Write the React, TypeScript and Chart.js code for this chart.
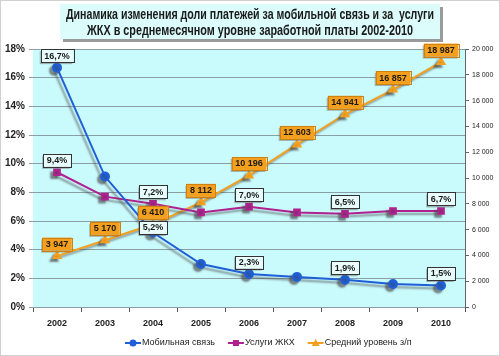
import React, { useEffect, useRef } from "react";
import { Chart, registerables } from "chart.js";
Chart.register(...registerables);

const titleLines = [
  "Динамика изменения доли платежей за мобильной связь и за  услуги",
  "ЖКХ в среднемесячном уровне заработной платы 2002-2010",
];
const years = ["2002", "2003", "2004", "2005", "2006", "2007", "2008", "2009", "2010"];
const mobileName = "Мобильная связь";
const housingName = "Услуги ЖКХ";
const salaryName = "Средний уровень з/п";
const mobile = [16.7, 9.1, 5.2, 3.0, 2.3, 2.1, 1.9, 1.6, 1.5];
const housing = [9.4, 7.7, 7.2, 6.6, 7.0, 6.6, 6.5, 6.7, 6.7];
const salary = [3947, 5170, 6410, 8112, 10196, 12603, 14941, 16857, 18987];
const mobileLabelIdx = [0, 2, 4, 6, 8];
const housingLabelIdx = [0, 2, 4, 6, 8];
const salaryLabelIdx = [0, 1, 2, 3, 4, 5, 6, 7, 8];

const BLUE = "#1f5fd8";
const PURPLE = "#b0208e";
const ORANGE = "#f4a01e";
const FONT = "'Liberation Sans Narrow', 'Liberation Sans', 'DejaVu Sans', sans-serif";

const fmtPct = (v: number) => v.toFixed(1).replace(".", ",") + "%";
const fmtNum = (v: number) => String(v).replace(/\B(?=(\d{3})+(?!\d))/g, " ");

const decorPlugin = {
  id: "decor",
  beforeDraw(chart: any) {
    const { ctx, chartArea: a, width, height } = chart;
    ctx.save();
    ctx.fillStyle = "#ffffff";
    ctx.fillRect(0, 0, width, height);
    ctx.strokeStyle = "#d0d0d0";
    ctx.lineWidth = 1;
    ctx.strokeRect(0.5, 0.5, width - 1, height - 1);
    ctx.fillStyle = "#c9fafc";
    ctx.fillRect(a.left, a.top, a.right - a.left, a.bottom - a.top);
    // title box
    ctx.fillStyle = "#9a9a9a";
    ctx.fillRect(63, 7, 380, 35);
    ctx.fillStyle = "#dcfbfb";
    ctx.fillRect(60, 4, 380, 35);
    ctx.fillStyle = "#1a1a1a";
    ctx.textAlign = "center";
    ctx.textBaseline = "middle";
    ctx.font = `bold 14px ${FONT}`;
    ctx.fillText(titleLines[0], 250, 15, 368);
    ctx.fillText(titleLines[1], 250, 31, 326);
    ctx.restore();
  },
  beforeDatasetsDraw(chart: any) {
    const ctx = chart.ctx;
    ctx.save();
    ctx.shadowColor = "rgba(70,70,70,0.55)";
    ctx.shadowOffsetX = -3;
    ctx.shadowOffsetY = 3;
    ctx.shadowBlur = 2;
  },
  afterDatasetsDraw(chart: any) {
    const ctx = chart.ctx;
    ctx.restore();
    const drawLabel = (x: number, y: number, text: string, orange: boolean) => {
      ctx.save();
      ctx.font = `bold 9px ${FONT}`;
      const w = ctx.measureText(text).width + 7;
      const h = 13;
      ctx.fillStyle = "rgba(90,90,90,0.45)";
      ctx.fillRect(x - w / 2 - 1, y - h / 2 + 2, w, h);
      ctx.fillStyle = orange ? ORANGE : "#e8fcfc";
      ctx.fillRect(x - w / 2, y - h / 2, w, h);
      ctx.strokeStyle = orange ? "#d08010" : "#333333";
      ctx.lineWidth = 1;
      ctx.strokeRect(Math.round(x - w / 2) + 0.5, Math.round(y - h / 2) + 0.5, Math.round(w), h);
      ctx.fillStyle = "#1a1a1a";
      ctx.textAlign = "center";
      ctx.textBaseline = "middle";
      ctx.fillText(text, x, y + 0.5);
      ctx.restore();
    };
    const sets: [number, number[], (v: number) => string, boolean][] = [
      [0, mobileLabelIdx, fmtPct, false],
      [1, housingLabelIdx, fmtPct, false],
      [2, salaryLabelIdx, fmtNum, true],
    ];
    sets.forEach(([di, idxs, fmt, orange]) => {
      const meta = chart.getDatasetMeta(di);
      const data = chart.data.datasets[di].data;
      idxs.forEach((i) => {
        const p = meta.data[i];
        let off = 12;
        if (di === 0 && i === 2) off = 5;
        drawLabel(p.x, p.y - off, fmt(data[i]), orange);
      });
    });
    // legend
    ctx.save();
    ctx.font = `9px ${FONT}`;
    ctx.textBaseline = "middle";
    ctx.textAlign = "left";
    const items: [string, string, string][] = [
      [mobileName, BLUE, "circle"],
      [housingName, PURPLE, "rect"],
      [salaryName, ORANGE, "triangle"],
    ];
    let x = 125;
    const y = 343;
    items.forEach(([name, color, shape]) => {
      ctx.strokeStyle = color;
      ctx.fillStyle = color;
      ctx.lineWidth = 2;
      ctx.beginPath();
      ctx.moveTo(x, y);
      ctx.lineTo(x + 16, y);
      ctx.stroke();
      const cx = x + 8;
      ctx.beginPath();
      if (shape === "circle") ctx.arc(cx, y, 3.5, 0, Math.PI * 2);
      else if (shape === "rect") ctx.rect(cx - 3, y - 3, 6, 6);
      else {
        ctx.moveTo(cx, y - 4);
        ctx.lineTo(cx + 4, y + 3);
        ctx.lineTo(cx - 4, y + 3);
        ctx.closePath();
      }
      ctx.fill();
      ctx.fillStyle = "#222222";
      ctx.fillText(name, x + 17, y);
      x += 17 + ctx.measureText(name).width + 13;
    });
    ctx.restore();
  },
};

export default function App() {
  const ref = useRef<HTMLCanvasElement | null>(null);
  useEffect(() => {
    document.body.style.margin = "0";
    const chart = new Chart(ref.current as HTMLCanvasElement, {
      type: "line",
      data: {
        labels: years,
        datasets: [
          {
            label: mobileName,
            data: mobile,
            borderColor: BLUE,
            backgroundColor: BLUE,
            borderWidth: 2,
            pointStyle: "circle",
            pointRadius: 4,
            yAxisID: "y",
          },
          {
            label: housingName,
            data: housing,
            borderColor: PURPLE,
            backgroundColor: PURPLE,
            borderWidth: 2,
            pointStyle: "rect",
            pointRadius: 4,
            yAxisID: "y",
          },
          {
            label: salaryName,
            data: salary,
            borderColor: ORANGE,
            backgroundColor: ORANGE,
            borderWidth: 2,
            pointStyle: "triangle",
            pointRadius: 4,
            yAxisID: "y1",
          },
        ],
      },
      options: {
        animation: false,
        responsive: false,
        layout: { padding: { top: 49, left: 0, right: 0, bottom: 0 } },
        plugins: { legend: { display: false }, title: { display: false }, tooltip: { enabled: false } },
        scales: {
          x: {
            offset: true,
            grid: { display: true, offset: true, drawOnChartArea: false, drawTicks: true, tickLength: 5, color: "#555" },
            border: { display: true, color: "#8a9ea4" },
            ticks: { font: { family: FONT, size: 9, weight: "bold" }, color: "#222", padding: 6 },
            afterFit: (s: any) => { s.height = 49; },
          },
          y: {
            position: "left",
            min: 0,
            max: 18,
            ticks: { stepSize: 2, callback: (v: any) => v + "%", font: { family: FONT, size: 10, weight: "bold" }, color: "#222", padding: 4 },
            grid: { color: "#8a9ea4", lineWidth: 1, tickLength: 4 },
            border: { display: false },
            afterFit: (s: any) => { s.width = 33; },
          },
          y1: {
            position: "right",
            min: 0,
            max: 20000,
            ticks: { stepSize: 2000, callback: (v: any) => fmtNum(Number(v)), font: { family: FONT, size: 7 }, color: "#222", padding: 3 },
            grid: { drawOnChartArea: false, tickLength: 4, color: "#666" },
            border: { display: true, color: "#666" },
            afterFit: (s: any) => { s.width = 35; },
          },
        },
      } as any,
      plugins: [decorPlugin],
    });
    return () => chart.destroy();
  }, []);
  return <canvas ref={ref} width={500} height={356} style={{ display: "block", width: 500, height: 356 }} />;
}
